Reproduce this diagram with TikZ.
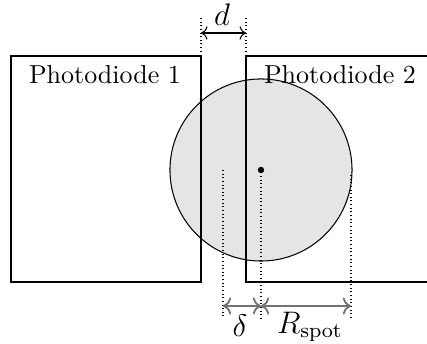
\documentclass[tikz,border=0pt]{standalone}
\usetikzlibrary{arrows.meta}
\begin{document}
\begin{tikzpicture}[x=0.385pt,y=-0.385pt,
  diode/.style={draw,line width=0.8pt},
  guide/.style={densely dotted,line width=0.4pt},
  dimarrow/.style={<->,line width=0.4pt},
  dimarrowg/.style={<->,line width=0.7pt,black!55},
  lbl/.style={inner sep=0pt}]
\useasboundingbox (0,0) rectangle (427,344);
\clip (0,0) rectangle (427,344);
% spot
\node[circle,draw,fill=black!10,line width=0.4pt,minimum size=70.1pt,inner sep=0pt] (spot) at (261,170) {};
% photodiodes
\draw[diode] (11,56) rectangle (201,282);
\draw[diode] (440,56) -- (246,56) -- (246,282) -- (440,282);
\node[lbl] (pd1) at (105,75) {Photodiode 1};
\node[lbl] (pd2) at (340,75) {Photodiode 2};
% center dot
\fill (spot.center) circle (3.2);
% coordinates
\coordinate (dl) at (201,18);
\coordinate (dr) at (246,18);
\coordinate (dle) at (201,54);
\coordinate (dre) at (246,54);
\coordinate (dla) at (201,33);
\coordinate (dra) at (246,33);
\coordinate (e1) at (223,170);
\coordinate (e1b) at (223,319);
\coordinate (c1) at (261,176);
\coordinate (c1b) at (261,319);
\coordinate (r1) at (351,175);
\coordinate (r1b) at (351,319);
\coordinate (a1) at (223,306);
\coordinate (a2) at (261,306);
\coordinate (a3) at (351,306);
% guides
\draw[guide] (dl) -- (dle);
\draw[guide] (dr) -- (dre);
\draw[guide] (e1) -- (e1b);
\draw[guide] (c1) -- (c1b);
\draw[guide] (r1) -- (r1b);
% dimension arrows
\draw[dimarrow] (dla) -- (dra);
\draw[dimarrowg] (a1) -- (a2);
\draw[dimarrowg] (a2) -- (a3);
\node[lbl] (dlab) at (222,15) {\large$d$};
\node[lbl] (delta) at (240,326) {\large$\delta$};
\node[lbl] (rspot) at (310,327) {\large$R_{\mathrm{spot}}$};
\end{tikzpicture}
\end{document}
